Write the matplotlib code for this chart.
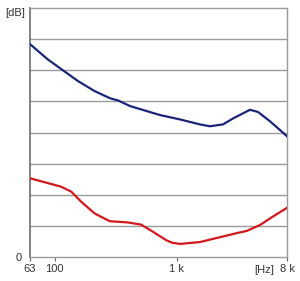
import numpy as np
import matplotlib
matplotlib.use("Agg")
import matplotlib.pyplot as plt

plt.rcParams["font.family"] = ["Liberation Sans", "DejaVu Sans"]

# ── Data (frequency in Hz, level in grid units) ──
upper_freq = [63, 88, 117, 156, 213, 285, 331, 415, 731, 1065, 1550, 1874,
              2394, 2890, 3980, 4630, 5808, 8000]
upper_db   = [6.84, 6.35, 6.0, 5.65, 5.33, 5.1, 5.03, 4.85, 4.56, 4.42, 4.26, 4.2,
              4.26, 4.45, 4.73, 4.66, 4.36, 3.88]

lower_freq = [63, 113, 137, 166, 213, 283, 399, 512, 640, 822, 916, 1065, 1550,
              3130, 3760, 4820, 6140, 8000]
lower_db   = [2.53, 2.26, 2.1, 1.77, 1.4, 1.15, 1.11, 1.04, 0.81, 0.54, 0.46, 0.42, 0.48,
              0.77, 0.84, 1.03, 1.3, 1.58]

xticks      = [63, 100, 1000, 8000]
xticklabels = ["63", "100", "1 k", "8 k"]

GRID = "#9a9a9a"
TEXT = "#333333"

fig = plt.figure(figsize=(3.0, 2.81), dpi=100)
ax = fig.add_axes([30 / 300, 24 / 281, 257 / 300, 249 / 281])

ax.set_xscale("log")
ax.set_xlim(63, 8000)
ax.set_ylim(0, 8)

for yv in range(1, 8):
    ax.axhline(yv, color=GRID, lw=1.0, zorder=1)

ax.plot(upper_freq, upper_db, color="#1b2577", lw=1.6, zorder=3,
        solid_joinstyle="round")
ax.plot(lower_freq, lower_db, color="#d4161d", lw=1.6, zorder=3,
        solid_joinstyle="round")

ax.set_xticks(xticks)
ax.set_xticklabels(xticklabels, fontsize=8, color=TEXT)
ax.xaxis.set_minor_locator(matplotlib.ticker.NullLocator())
ax.tick_params(axis="x", length=3, width=0.8, color="#666666", pad=2)
ax.set_yticks([0])
ax.set_yticklabels(["0"], fontsize=8, color=TEXT)
ax.tick_params(axis="y", length=0, pad=6)

for side in ["top", "right", "bottom"]:
    ax.spines[side].set_color(GRID)
    ax.spines[side].set_linewidth(1.0)
ax.spines["left"].set_color("#6e6e6e")
ax.spines["left"].set_linewidth(1.2)

fig.text(15 / 300, 1 - 13 / 281, "[dB]", fontsize=8, ha="center", va="center",
         color=TEXT)
fig.text(264 / 300, 1 - 270 / 281, "[Hz]", fontsize=8, ha="center", va="center",
         color=TEXT)

fig.savefig("out.png", dpi=100)
